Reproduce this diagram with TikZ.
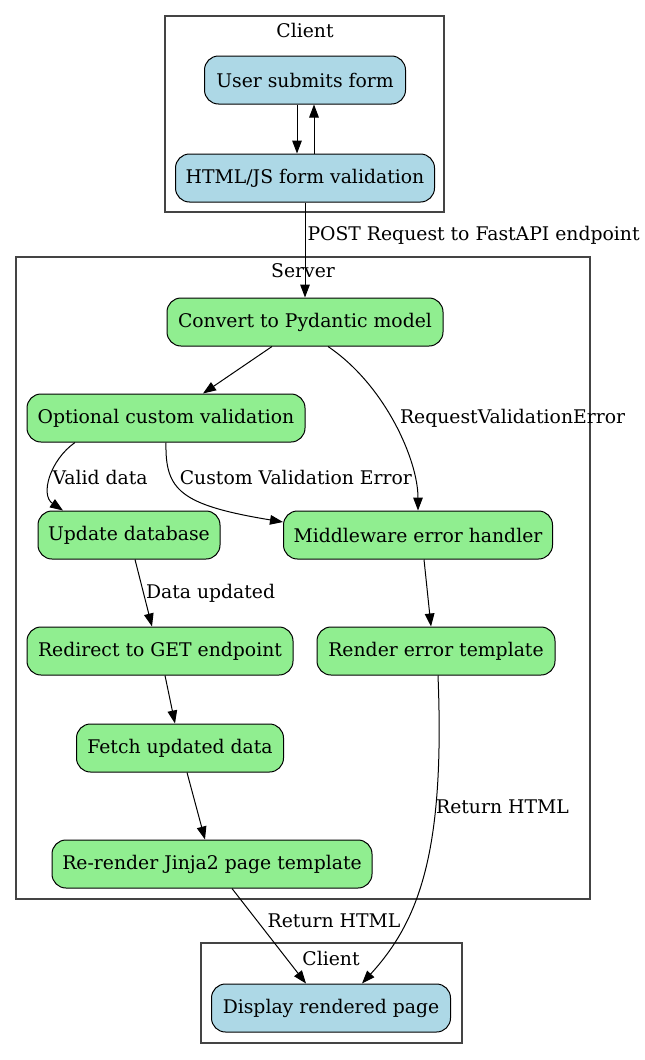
\documentclass[tikz,border=0pt]{standalone}
\usepackage{fontspec}
\setmainfont{DejaVu Serif}
\usetikzlibrary{arrows.meta}
\definecolor{lightblue}{HTML}{ADD8E6}
\definecolor{lightgreen}{HTML}{90EE90}
\definecolor{framegray}{HTML}{444444}

\begin{document}
\begin{tikzpicture}[x=0.5pt,y=0.5pt,
    font=\fontsize{9.4}{11}\selectfont,
    box/.style={draw, line width=0.5pt, rounded corners=7pt, minimum height=24pt, inner sep=0pt},
    clientbox/.style={box, fill=lightblue},
    serverbox/.style={box, fill=lightgreen},
    cluster/.style={draw=framegray, line width=0.6pt, inner sep=0pt},
    edge/.style={-{Triangle[length=6.5pt,width=4.8pt]}, line width=0.5pt},
    lbl/.style={inner sep=1pt, anchor=west}]
    \useasboundingbox (0,0) rectangle (644,-1060);

    % clusters
    \node[cluster, minimum width=139.5pt, minimum height=98pt] (clienttop) at (304.5,-114) {};
    \node[cluster, minimum width=287pt, minimum height=321pt] (server) at (303,-578) {};
    \node[cluster, minimum width=130.5pt, minimum height=50pt] (clientbottom) at (331.5,-993) {};
    \node (clienttoptitle) at (305,-30) {Client};
    \node (servertitle) at (303,-271) {Server};
    \node (clientbottomtitle) at (331,-958) {Client};

    % client side
    \node[clientbox, minimum width=100.5pt] (submit) at (305,-80) {User submits form};
    \node[clientbox, minimum width=129.5pt] (formcheck) at (305,-178) {HTML/JS form validation};

    % server side
    \node[serverbox, minimum width=138pt] (pydantic) at (305,-322) {Convert to Pydantic model};
    \node[serverbox, minimum width=139pt] (custom) at (166,-418) {Optional custom validation};
    \node[serverbox, minimum width=91pt] (update) at (129,-535) {Update database};
    \node[serverbox, minimum width=134.5pt] (handler) at (418,-535) {Middleware error handler};
    \node[serverbox, minimum width=133pt] (redirect) at (160,-651) {Redirect to GET endpoint};
    \node[serverbox, minimum width=119pt] (errtpl) at (436,-651) {Render error template};
    \node[serverbox, minimum width=103.5pt] (fetch) at (180,-748) {Fetch updated data};
    \node[serverbox, minimum width=160pt] (rerender) at (212,-864) {Re-render Jinja2 page template};

    % result
    \node[clientbox, minimum width=119.5pt] (display) at (331,-1008) {Display rendered page};

    \draw[edge] ([xshift=-4pt]submit.south) -- ([xshift=-4pt]formcheck.north);
    \draw[edge] ([xshift=4.5pt]formcheck.north) -- ([xshift=4.5pt]submit.south);
    \draw[edge] (formcheck.south) -- node[lbl, pos=0.35] {POST Request to FastAPI endpoint} (pydantic.north);
    \draw[edge] ([xshift=-16.5pt]pydantic.south) -- ([xshift=18.5pt]custom.north);
    \draw[edge] ([xshift=11.5pt]pydantic.south) .. controls (385,-385) and (418,-460) .. node[lbl, pos=0.47, xshift=3pt] {RequestValidationError} (handler.north);
    \draw[edge] ([xshift=-45.5pt]custom.south) .. controls (50,-460) and (40,-495) .. node[lbl, pos=0.5, inner sep=0.5pt] {Valid data} ([xshift=-33pt]update.north);
    \draw[edge] (custom.south) .. controls (165,-490) and (180,-505) .. node[lbl, pos=0.3, xshift=3pt] {Custom Validation Error} ([yshift=6.5pt]handler.west);
    \draw[edge] ([xshift=3pt]update.south) -- node[lbl, pos=0.5] {Data updated} ([xshift=-4pt]redirect.north);
    \draw[edge] ([xshift=3pt]handler.south) -- ([xshift=-2.5pt]errtpl.north);
    \draw[edge] ([xshift=2.5pt]redirect.south) -- ([xshift=-2.5pt]fetch.north);
    \draw[edge] ([xshift=3.5pt]fetch.south) -- ([xshift=-3.5pt]rerender.north);
    \draw[edge] ([xshift=10pt]rerender.south) -- node[lbl, pos=0.34, xshift=4pt] {Return HTML} ([xshift=-12.5pt]display.north);
    \draw[edge] ([xshift=1pt]errtpl.south) .. controls (445,-850) and (420,-920) .. node[lbl, pos=0.3, inner sep=0pt] {Return HTML} ([xshift=15.5pt]display.north);
\end{tikzpicture}
\end{document}
